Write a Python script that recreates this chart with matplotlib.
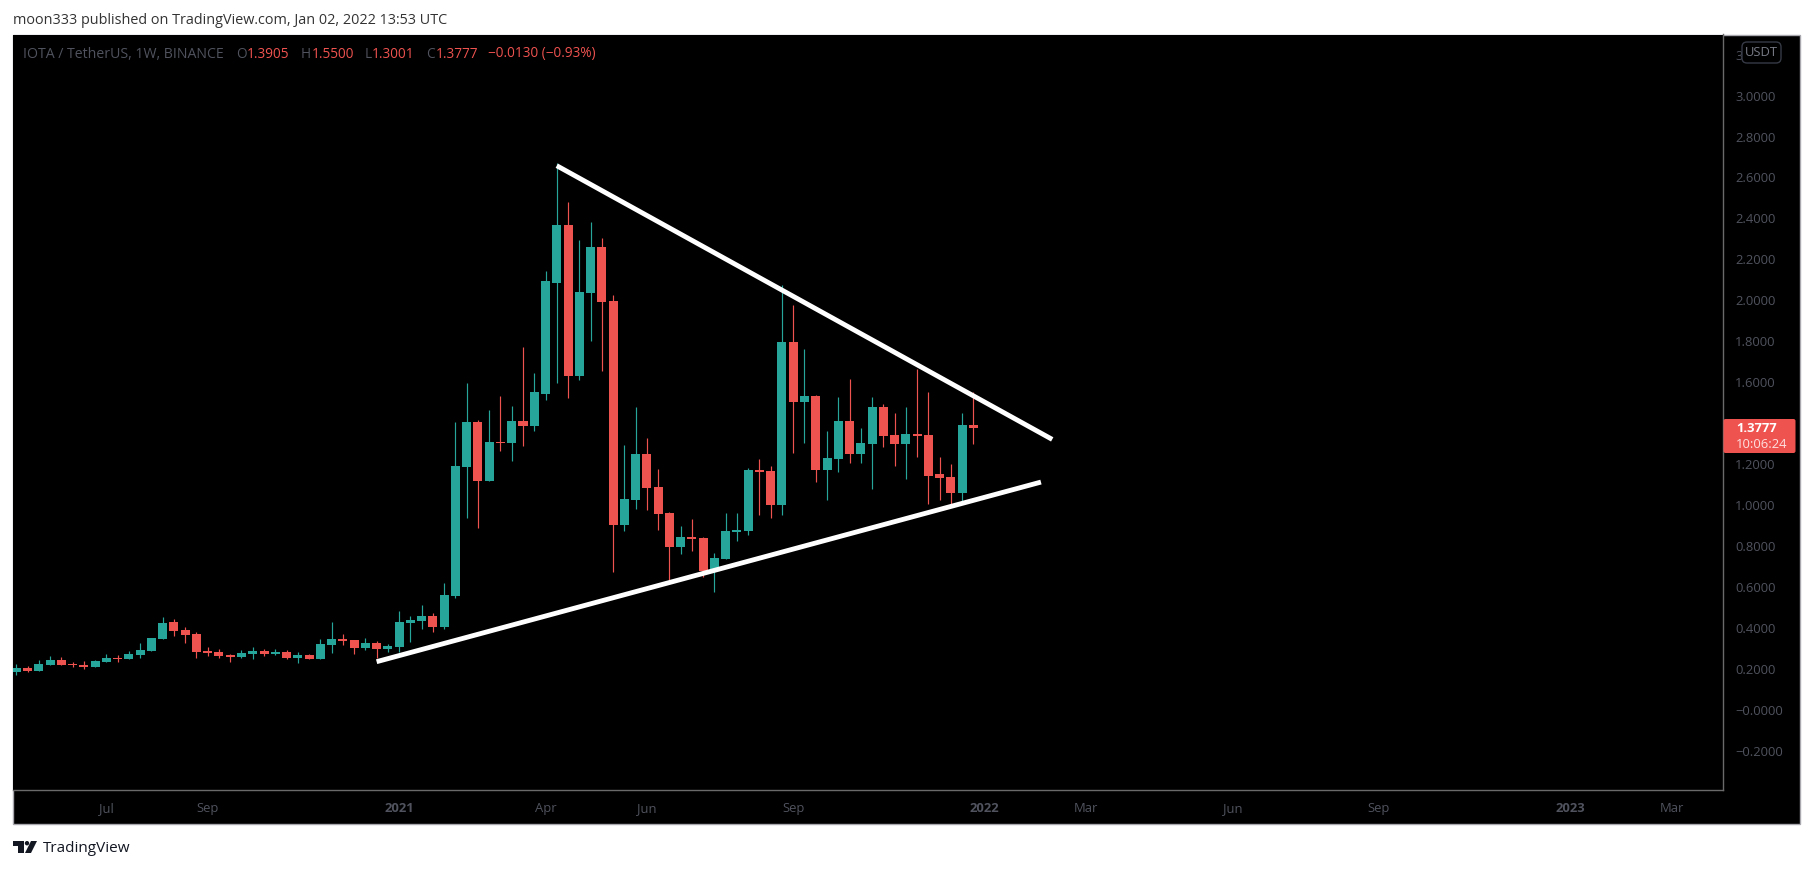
import matplotlib
matplotlib.use('Agg')
import numpy as np
import matplotlib.pyplot as plt
from matplotlib.patches import Rectangle, FancyBboxPatch, Polygon, Circle

# Weekly candles, one row of values per candle position
opens = [.184, .203, .189, .218, .243, .223, .218, .208, .233, .252,
         .248, .267, .287, .345, .428, .389, .370, .287, .282, .267,
         .257, .272, .287, .272, .282, .252, .267, .248, .316, .345,
         .340, .301, .326, .297, .306, .423, .433, .458, .404, .555,
         1.186, 1.405, 1.117, 1.310, 1.303, 1.410, 1.386, 1.542, 2.084, 2.368,
         1.630, 2.036, 2.260, 1.997, .902, 1.024, 1.249, 1.088, .961, .795,
         .844, .839, .676, .736, .868, .873, 1.171, 1.166, 1.000, 1.796,
         1.503, 1.532, 1.171, 1.225, 1.410, 1.249, 1.298, 1.479, 1.342, 1.298,
         1.347, 1.342, 1.151, 1.137, 1.059, 1.3905]
highs = [.223, .213, .243, .262, .257, .233, .238, .243, .272, .267,
         .287, .326, .350, .453, .443, .404, .379, .306, .297, .272,
         .292, .306, .297, .297, .292, .282, .272, .345, .428, .370,
         .340, .350, .335, .321, .482, .458, .511, .472, .619, 1.405,
         1.596, 1.415, 1.464, 1.5325, 1.484, 1.772, 1.645, 2.143, 2.669, 2.480,
         2.295, 2.383, 2.304, 2.026, 1.293, 1.479, 1.327, 1.176, .966, .897,
         .932, .844, .766, .961, .961, 1.181, 1.225, 1.190, 2.075, 1.977,
         1.762, 1.537, 1.361, 1.528, 1.616, 1.376, 1.528, 1.493, 1.449, 1.479,
         1.664, 1.552, 1.234, 1.200, 1.449, 1.5500]
lows = [.170, .184, .189, .218, .218, .208, .199, .208, .233, .233,
        .248, .252, .287, .345, .360, .326, .252, .262, .252, .233,
        .252, .248, .262, .267, .248, .228, .248, .248, .277, .316,
        .272, .292, .252, .282, .282, .331, .394, .379, .394, .546,
        .937, .888, 1.117, 1.264, 1.215, 1.288, 1.361, 1.513, 1.596, 1.523,
        1.611, 1.801, 1.655, .673, .873, .981, .976, .878, .634, .761,
        .775, .648, .575, .736, .824, .853, .951, .936, .951, 1.254,
        1.303, 1.112, 1.024, 1.161, 1.205, 1.205, 1.078, 1.283, 1.190, 1.127,
        1.234, 1.005, 1.024, 1.000, 1.016, 1.3001]
closes = [.203, .189, .223, .243, .218, .218, .208, .238, .252, .248,
          .272, .292, .350, .423, .384, .365, .282, .277, .262, .257,
          .277, .287, .272, .282, .252, .267, .248, .321, .345, .335,
          .301, .326, .297, .311, .428, .438, .458, .404, .560, 1.191,
          1.405, 1.117, 1.308, 1.303, 1.410, 1.386, 1.552, 2.094, 2.368, 1.630,
          2.040, 2.260, 1.992, .902, 1.029, 1.249, 1.083, .956, .795, .844,
          .834, .676, .741, .873, .878, 1.171, 1.161, 1.000, 1.796, 1.503,
          1.532, 1.171, 1.230, 1.410, 1.249, 1.303, 1.479, 1.337, 1.298, 1.347,
          1.337, 1.142, 1.132, 1.059, 1.391, 1.3777]

# Hand drawn trendlines (candle position, price)
upper_x = [48.0, 92.0]
upper_y = [2.6575, 1.3205]
lower_x = [32.0, 91.0]
lower_y = [.2345, 1.112]

# 1.4 sits under the last price tag and 3.2 is mostly under the USDT pill
price_ticks = [-0.2, 0.0, 0.2, 0.4, 0.6, 0.8, 1.0, 1.2, 1.6, 1.8, 2.0, 2.2, 2.4, 2.6, 2.8, 3.0, 3.2]
price_labels = ['\u22120.2000', '\u22120.0000', '0.2000', '0.4000', '0.6000', '0.8000', '1.0000', '1.2000',
                '1.6000', '1.8000', '2.0000', '2.2000', '2.4000', '2.6000', '2.8000', '3.0000', '3']
date_ticks = [8, 17, 34, 47, 56, 69, 86, 95, 108, 121, 138, 147]
date_labels = ['Jul', 'Sep', '2021', 'Apr', 'Jun', 'Sep', '2022', 'Mar', 'Jun', 'Sep', '2023', 'Mar']

TEAL = '#26a69a'
RED = '#ef5350'
GREY_TEXT = '#50535e'
LINE = '#6a6a6a'
FONT = 'Open Sans'

W, H = 1813, 869
plt.rcParams['font.family'] = [FONT, 'DejaVu Sans']

fig = plt.figure(figsize=(W / 100, H / 100), dpi=100, facecolor='white')

# Black panel behind plot and both axis strips
fig.add_artist(Rectangle((13 / W, 1 - 824 / H), (1799.5 - 13) / W, (824 - 34.5) / H,
                         transform=fig.transFigure, facecolor='black', edgecolor='#a8a8ae',
                         linewidth=1, zorder=-1))

ax = fig.add_axes([13 / W, 1 - 790 / H, (1723 - 13) / W, (790 - 34.5) / H])
ax.set_facecolor('black')
ax.set_xlim((13 - 16.3) / 11.26, (1723 - 16.3) / 11.26)
ax.set_ylim(1 - 285 / 204.7, 1 + 470.5 / 204.7)

x = np.arange(len(opens))
o = np.array(opens)
h = np.array(highs)
l = np.array(lows)
c = np.array(closes)
colors = np.where(c >= o, TEAL, RED)

ax.vlines(x, l, h, colors=colors, linewidth=0.85, zorder=2)
ax.bar(x, np.abs(c - o), bottom=np.minimum(o, c), width=0.8, color=colors, linewidth=0, zorder=3)

ax.plot(upper_x, upper_y, color='white', linewidth=3.5, solid_capstyle='butt', zorder=4)
ax.plot(lower_x, lower_y, color='white', linewidth=3.5, solid_capstyle='butt', zorder=4)

ax.yaxis.tick_right()
ax.set_yticks(price_ticks)
ax.set_yticklabels(price_labels, fontsize=9.4, color=GREY_TEXT)
ax.set_xticks(date_ticks)
ax.set_xticklabels(date_labels, fontsize=9.4, color=GREY_TEXT)
ax.tick_params(axis='both', length=0)
ax.tick_params(axis='y', pad=8.6)
ax.tick_params(axis='x', pad=8.5)
for lab in ax.get_xticklabels():
    if lab.get_text().startswith('20'):
        lab.set_fontweight('bold')
for side in ['top', 'left']:
    ax.spines[side].set_visible(False)
for side in ['bottom', 'right']:
    ax.spines[side].set_color(LINE)
    ax.spines[side].set_linewidth(1)

# Pixel overlay for header, footer and labels
top = fig.add_axes([0, 0, 1, 1], facecolor='none')
top.set_xlim(0, W)
top.set_ylim(H, 0)
top.axis('off')

top.text(13, 20, 'moon333 published on TradingView.com, Jan 02, 2022 13:53 UTC',
         fontsize=10.4, color='#333333', va='center')

legend = [(23, 'IOTA / TetherUS, 1W, BINANCE', GREY_TEXT, 10.2), (236, 'O', GREY_TEXT, 9.8), (247, '1.3905', RED, 9.8),
          (301, 'H', GREY_TEXT, 9.8), (312, '1.5500', RED, 9.8), (365, 'L', GREY_TEXT, 9.8), (372, '1.3001', RED, 9.8),
          (426, 'C', GREY_TEXT, 9.8), (436, '1.3777', RED, 9.8), (488, '\u22120.0130 (\u22120.93%)', RED, 9.8)]
for px, txt, col, size in legend:
    top.text(px, 54, txt, fontsize=size, color=col, va='center')

# USDT pill next to the cut off 3.2000 label
top.add_patch(FancyBboxPatch((1745, 45), 33, 15, boxstyle='round,pad=3,rounding_size=5',
                             facecolor='black', edgecolor='#363a45', linewidth=1, zorder=5))
top.text(1761.5, 52, 'USDT', fontsize=9.4, color='#787b86', ha='center', va='center', zorder=6)

# Last price tag
top.add_patch(FancyBboxPatch((1723.5, 419), 72, 34, boxstyle='round,pad=0,rounding_size=2',
                             facecolor=RED, edgecolor='none', zorder=5))
top.text(1736, 429, '1.3777', fontsize=9.4, fontweight='bold', color='white', va='center', zorder=6)
top.text(1736, 445, '10:06:24', fontsize=9.4, color='#fde0df', va='center', zorder=6)

# TradingView logo and name
top.add_patch(Polygon([(13, 841), (24, 841), (24, 853), (18, 853), (18, 846), (13, 846)],
                      facecolor='#131722', edgecolor='none'))
top.add_patch(Circle((27, 843.2), 2.2, facecolor='#131722', edgecolor='none'))
top.add_patch(Polygon([(31, 841), (37, 841), (31, 853), (25, 853)], facecolor='#131722', edgecolor='none'))
top.text(43, 848, 'TradingView', fontsize=11, color='#131722', va='center')

fig.savefig('out.png', dpi=100, facecolor='white')
